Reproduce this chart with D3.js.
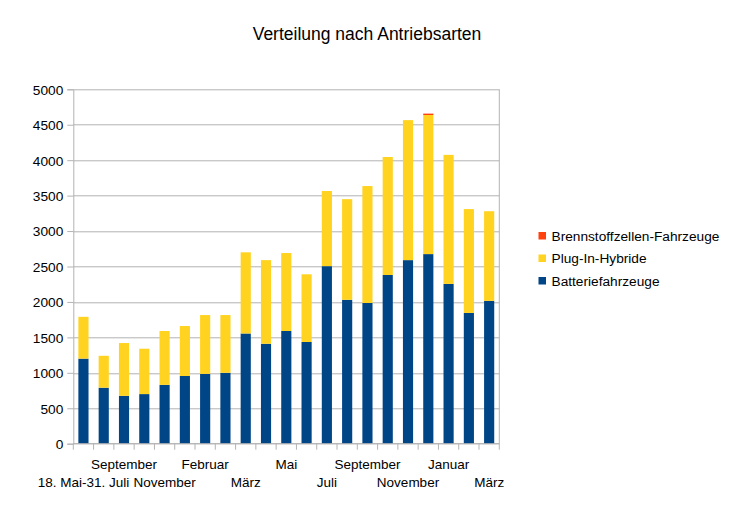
<!DOCTYPE html>
<html>
<head>
<meta charset="utf-8">
<script src="https://cdn.jsdelivr.net/npm/d3@7"></script>
<style>
  body { margin: 0; background: #fff; }
  svg { display: block; font-family: "Liberation Sans", Arial, sans-serif; }
</style>
</head>
<body>
<svg id="chart" width="734" height="518"></svg>
<script>
// Category labels (only every second one is shown, as in the original)
const categories = ["18. Mai-31. Juli", "August", "September", "Oktober", "November",
  "Dezember", "Februar", "Februar/März", "März", "April", "Mai", "Juni", "Juli",
  "August ", "September ", "Oktober ", "November ", "Dezember ", "Januar", "Februar ", "März "];

const batterie = [1200, 790, 675, 700, 830, 955, 985, 1000, 1555, 1410, 1590, 1435, 2505,
  2030, 1985, 2380, 2590, 2675, 2255, 1845, 2015];
const plugin = [590, 450, 745, 640, 760, 705, 830, 815, 1145, 1180, 1100, 955, 1060,
  1420, 1650, 1665, 1975, 1962, 1820, 1465, 1265];
const brennstoff = [0, 0, 0, 0, 0, 0, 0, 0, 0, 0, 0, 0, 0,
  0, 0, 0, 0, 20, 0, 0, 0];

const seriesNames = ["Batteriefahrzeuge", "Plug-In-Hybride", "Brennstoffzellen-Fahrzeuge"];
const colors = ["#004586", "#ffd320", "#ff420e"];
const yTicks = [0, 500, 1000, 1500, 2000, 2500, 3000, 3500, 4000, 4500, 5000];

const margin = {left: 73.3, right: 734 - 499.3, top: 89.3, bottom: 518 - 443.7};
const w = 734 - margin.left - margin.right;
const h = 518 - margin.top - margin.bottom;
const grid_color = "#b3b3b3";

const svg = d3.select("#chart");

const rows = categories.map((c, i) => ({
  i,
  [seriesNames[0]]: batterie[i],
  [seriesNames[1]]: plugin[i],
  [seriesNames[2]]: brennstoff[i]
}));

const series = d3.stack().keys(seriesNames)(rows);

const x = d3.scaleBand()
  .domain(d3.range(categories.length))
  .range([0, w])
  .paddingInner(0.5)
  .paddingOuter(0.25);

const y = d3.scaleLinear().domain([0, 5000]).range([h, 0]);

const g = svg.append("g")
  .attr("transform", `translate(${margin.left},${margin.top})`);

// title
svg.append("text")
  .attr("x", 367)
  .attr("y", 40)
  .attr("text-anchor", "middle")
  .style("font-size", "17.5px")
  .text("Verteilung nach Antriebsarten");

// gridlines
g.append("g")
  .selectAll("line")
  .data(yTicks)
  .enter().append("line")
  .attr("x1", 0).attr("x2", w)
  .attr("y1", d => Math.round(y(d)) + 0.5)
  .attr("y2", d => Math.round(y(d)) + 0.5)
  .attr("stroke", grid_color);

// right border
g.append("line")
  .attr("x1", w).attr("x2", w)
  .attr("y1", 0).attr("y2", h)
  .attr("stroke", grid_color);

// bars
g.append("g")
  .selectAll("g")
  .data(series)
  .enter().append("g")
  .attr("fill", (d, i) => colors[i])
  .selectAll("rect")
  .data(d => d)
  .enter().append("rect")
  .attr("x", d => x(d.data.i))
  .attr("width", x.bandwidth())
  .attr("y", d => y(d[1]))
  .attr("height", d => Math.max(0, y(d[0]) - y(d[1])));

// y axis
const yAxis = g.append("g")
  .call(d3.axisLeft(y).tickValues(yTicks).tickFormat(d3.format("d")).tickSize(6).tickPadding(4));
yAxis.select(".domain").attr("stroke", grid_color);
yAxis.selectAll(".tick line").attr("stroke", grid_color);
yAxis.selectAll("text")
  .style("font-size", "13.7px")
  .style("font-family", "'Liberation Sans', Arial, sans-serif")
  .attr("fill", "#000")
  .attr("dy", "0.36em");

// x axis: ticks at category boundaries
const boundaries = d3.range(categories.length + 1).map(i => i * w / categories.length);
const xAxis = g.append("g").attr("transform", `translate(0,${h})`);
xAxis.append("line")
  .attr("x1", 0).attr("x2", w)
  .attr("stroke", grid_color);
xAxis.selectAll("line.tk")
  .data(boundaries)
  .enter().append("line")
  .attr("class", "tk")
  .attr("x1", d => d).attr("x2", d => d)
  .attr("y1", 0).attr("y2", 6)
  .attr("stroke", grid_color);

// staggered category labels, every second one shown
xAxis.selectAll("text")
  .data(categories.map((c, i) => ({c, i})).filter(d => d.i % 2 === 0))
  .enter().append("text")
  .attr("x", d => x(d.i) + x.bandwidth() / 2)
  .attr("y", d => (d.i / 2) % 2 === 0 ? 43.5 : 25)
  .attr("text-anchor", "middle")
  .style("font-size", "13.5px")
  .text(d => d.c);

// legend
const legend = svg.append("g").attr("transform", "translate(538.5,0)");
const legendItems = [2, 1, 0];
legend.selectAll("g")
  .data(legendItems)
  .enter().append("g")
  .attr("transform", (d, k) => `translate(0,${232 + k * 22.5})`)
  .each(function(d) {
    const item = d3.select(this);
    item.append("rect")
      .attr("width", 7.5).attr("height", 7.5)
      .attr("fill", colors[d]);
    item.append("text")
      .attr("x", 13)
      .attr("y", 8.5)
      .style("font-size", "13.7px")
      .text(seriesNames[d]);
  });
</script>
</body>
</html>
